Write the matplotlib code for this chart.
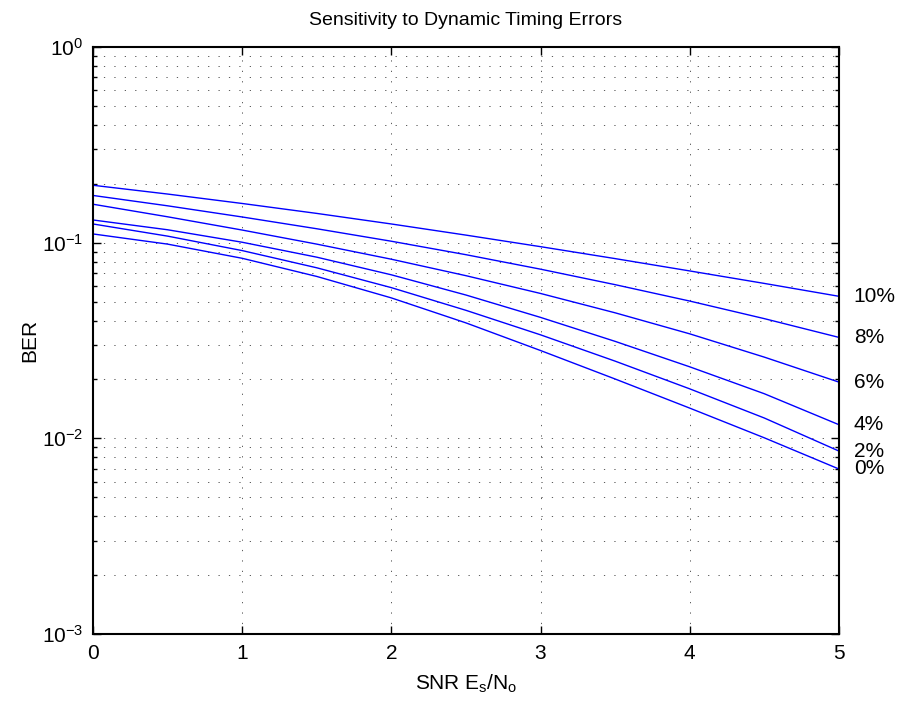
import numpy as np
import matplotlib
matplotlib.use('Agg')
import matplotlib.pyplot as plt
from matplotlib.ticker import LogLocator, NullFormatter

plt.rcParams['font.family'] = ['Liberation Sans', 'DejaVu Sans']
plt.rcParams['mathtext.fontset'] = 'custom'
plt.rcParams['mathtext.rm'] = 'Liberation Sans'
plt.rcParams['mathtext.it'] = 'Liberation Sans'
plt.rcParams['mathtext.default'] = 'regular'

# SNR points (Es/No) and BER for each timing error
snr = [0, 0.5, 1, 1.5, 2, 2.5, 3, 3.5, 4, 4.5, 5]
ber_10 = [0.1965, 0.1772, 0.1586, 0.1411, 0.1246, 0.1093, 0.0954, 0.0829, 0.0717, 0.0619, 0.0532]
ber_8 = [0.1743, 0.1543, 0.1353, 0.1178, 0.1017, 0.0868, 0.0732, 0.0610, 0.0503, 0.0409, 0.0328]
ber_6 = [0.1572, 0.1356, 0.1160, 0.0983, 0.0823, 0.0678, 0.0550, 0.0438, 0.0342, 0.0260, 0.01938]
ber_4 = [0.1306, 0.1164, 0.1005, 0.0843, 0.0685, 0.0540, 0.0415, 0.0313, 0.0232, 0.0169, 0.01174]
ber_2 = [0.1246, 0.1080, 0.0911, 0.0744, 0.0589, 0.0451, 0.0338, 0.0248, 0.0179, 0.0127, 0.00861]
ber_0 = [0.1108, 0.0983, 0.0832, 0.0672, 0.0522, 0.0389, 0.0281, 0.0201, 0.01427, 0.01006, 0.00697]
labels = ['10%', '8%', '6%', '4%', '2%', '0%']

curves = [ber_10, ber_8, ber_6, ber_4, ber_2, ber_0]

fig = plt.figure(figsize=(9.03, 7.07), dpi=100)
ax = fig.add_axes([0.103, 0.1033, 0.826, 0.8302])

for c, lab in zip(curves, labels):
    ax.semilogy(snr, c, color=(0, 0, 1), linewidth=1.0)
    ax.text(snr[-1] + 0.1, c[-1], lab, fontsize=15, va='center', ha='left')

ax.set_xlim(0, 5)
ax.set_ylim(1e-3, 1)
ax.yaxis.set_major_locator(LogLocator(base=10, numticks=10))
ax.yaxis.set_minor_locator(LogLocator(base=10, subs=np.arange(2, 10), numticks=20))
ax.yaxis.set_minor_formatter(NullFormatter())

grid_style = dict(color='black', linewidth=0.6, linestyle=(0, (1.5, 11)), alpha=0.75)
ax.grid(True, which='major', axis='both', **grid_style)
ax.grid(True, which='minor', axis='y', **grid_style)

ax.tick_params(which='both', direction='in', top=True, right=True, labelsize=15, width=1.0)
ax.tick_params(which='major', length=6, pad=7)
ax.tick_params(which='minor', length=3)
for s in ax.spines.values():
    s.set_linewidth(1.5)

ax.set_title('Sensitivity to Dynamic Timing Errors', fontsize=14, pad=16)
ax.set_xlabel(r'SNR E$_\mathrm{s}$/N$_\mathrm{o}$', fontsize=15, labelpad=7)
ax.set_ylabel('BER', fontsize=15, labelpad=2)

fig.savefig('out.png', dpi=100, facecolor='white')
